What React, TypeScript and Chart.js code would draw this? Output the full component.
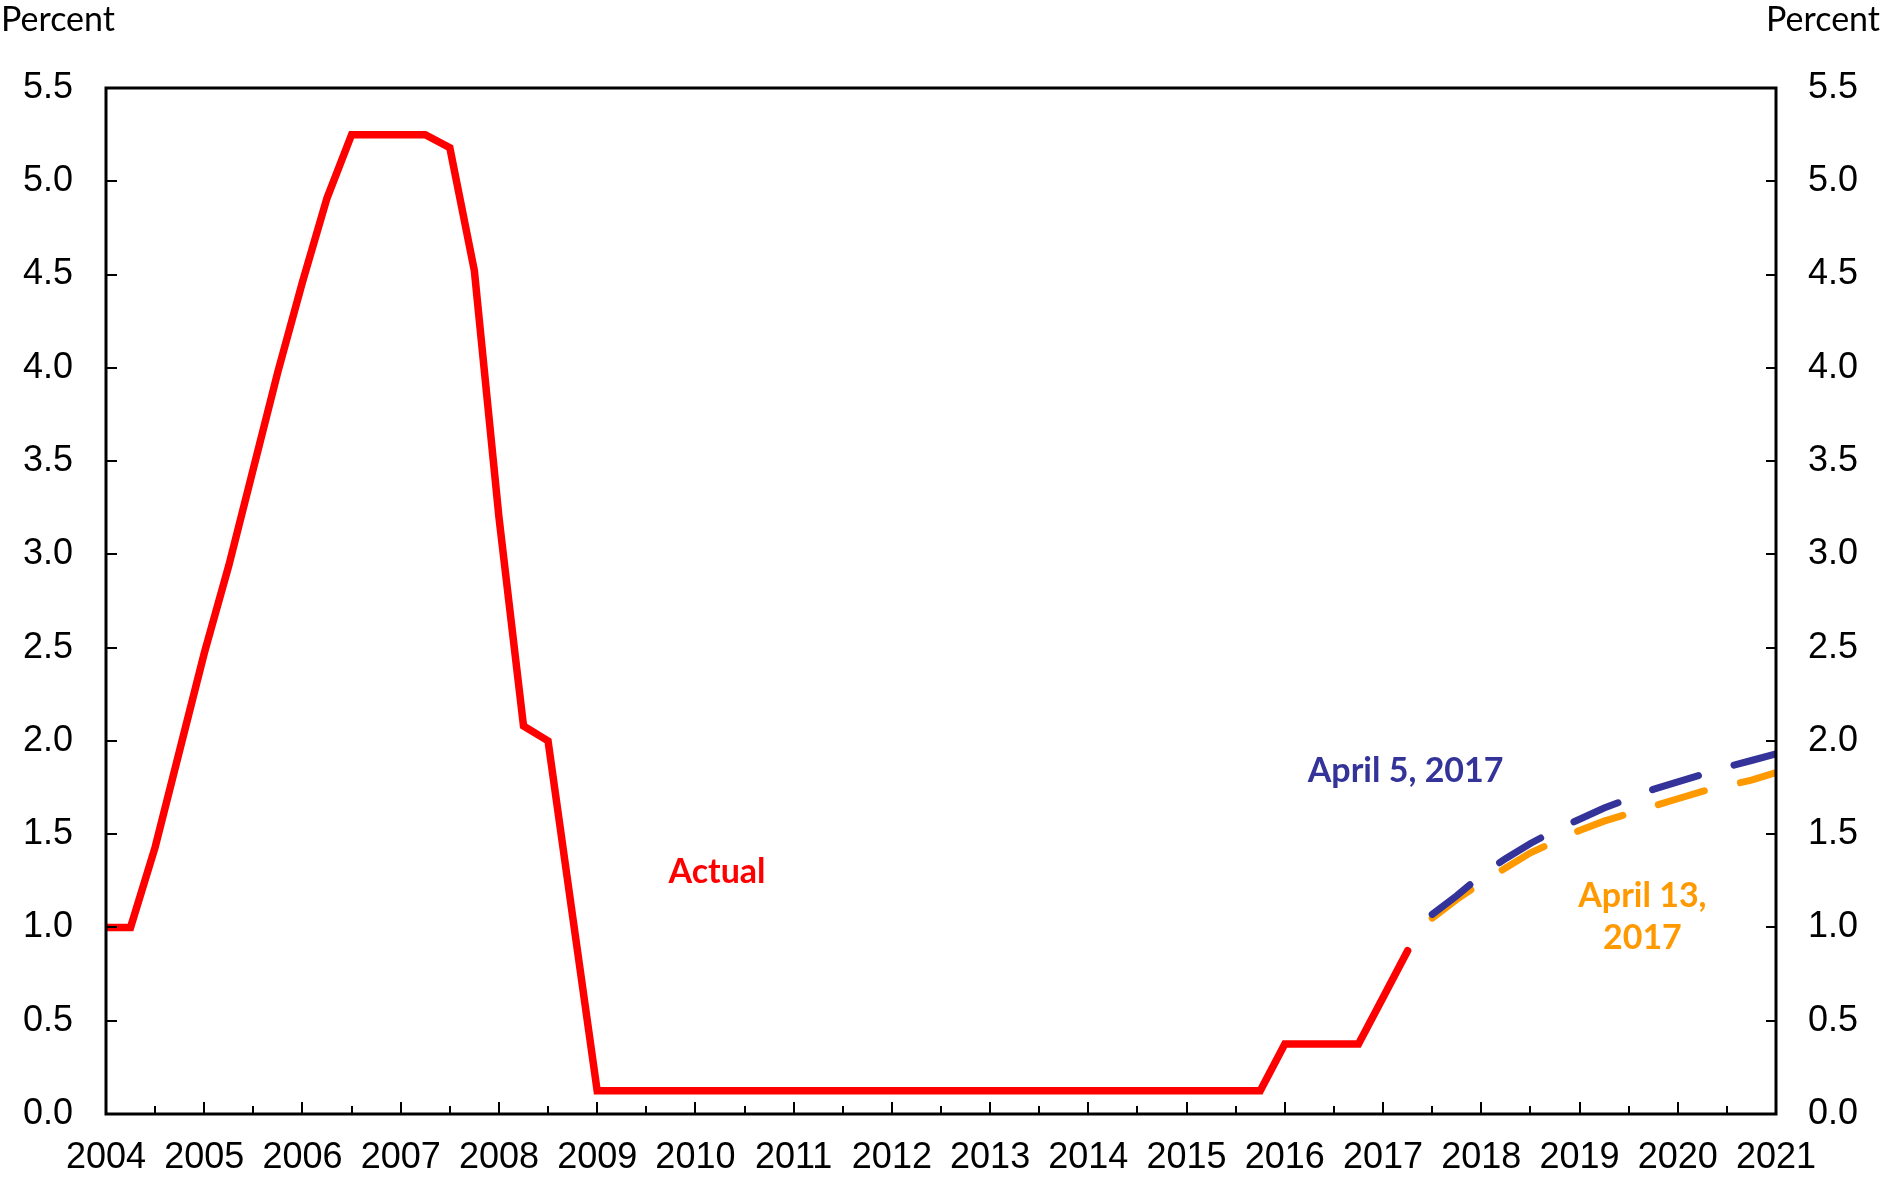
import React, { useEffect, useRef } from 'react';
import { Chart, registerables } from 'chart.js';

Chart.register(...registerables);

// Quarterly federal funds rate, actual (first quarter 2004 onward, quarterly steps)
const actualStartYear = 2004;
const actualRate = [
  1.0, 1.0, 1.43, 1.95,
  2.47, 2.94, 3.46, 3.98,
  4.46, 4.91, 5.25, 5.25,
  5.25, 5.25, 5.18, 4.52,
  3.2, 2.08, 2.0, 1.06,
  0.125, 0.125, 0.125, 0.125,
  0.125, 0.125, 0.125, 0.125,
  0.125, 0.125, 0.125, 0.125,
  0.125, 0.125, 0.125, 0.125,
  0.125, 0.125, 0.125, 0.125,
  0.125, 0.125, 0.125, 0.125,
  0.125, 0.125, 0.125, 0.125,
  0.375, 0.375, 0.375, 0.375,
  0.625, 0.875,
];

// Market-implied paths (third quarter 2017 onward, quarterly steps)
const forecastStartYear = 2017.5;
const april5Path = [
  1.07, 1.17, 1.28, 1.37, 1.45, 1.52, 1.58, 1.64,
  1.69, 1.74, 1.78, 1.82, 1.86, 1.895, 1.93,
];
const april13Path = [
  1.05, 1.15, 1.24, 1.32, 1.40, 1.46, 1.52, 1.57,
  1.61, 1.65, 1.69, 1.73, 1.76, 1.79, 1.83,
];

const yearTicks = [
  2004, 2005, 2006, 2007, 2008, 2009, 2010, 2011, 2012,
  2013, 2014, 2015, 2016, 2017, 2018, 2019, 2020, 2021,
];
const halfYearTicks = [
  2004.5, 2005.5, 2006.5, 2007.5, 2008.5, 2009.5, 2010.5, 2011.5, 2012.5,
  2013.5, 2014.5, 2015.5, 2016.5, 2017.5, 2018.5, 2019.5, 2020.5,
];
const yMin = 0;
const yMax = 5.5;
const yStep = 0.5;

const toPoints = (start: number, vals: number[]) =>
  vals.map((v, i) => ({ x: start + i * 0.25, y: v }));

const W = 1883;
const H = 1181;
const TICK_FONT = '"Liberation Sans", Arial, sans-serif';
const LABEL_FONT = 'Lato, "Open Sans", sans-serif';

const framePlugin = {
  id: 'framePlugin',
  afterDatasetsDraw(chart: any) {
    const { ctx, chartArea } = chart;
    const x = chart.scales.x;
    const y = chart.scales.y;
    const { left, right, top, bottom } = chartArea;
    ctx.save();
    ctx.strokeStyle = '#000';
    ctx.lineCap = 'butt';
    // ticks
    ctx.lineWidth = 2;
    ctx.beginPath();
    yearTicks.forEach((t) => {
      const px = Math.round(x.getPixelForValue(t));
      ctx.moveTo(px, bottom);
      ctx.lineTo(px, bottom - 12);
    });
    halfYearTicks.forEach((t) => {
      const px = Math.round(x.getPixelForValue(t));
      ctx.moveTo(px, bottom);
      ctx.lineTo(px, bottom - 8);
    });
    for (let v = yMin; v <= yMax + 1e-9; v += yStep) {
      const py = Math.round(y.getPixelForValue(v));
      ctx.moveTo(left, py);
      ctx.lineTo(left + 11, py);
      ctx.moveTo(right, py);
      ctx.lineTo(right - 10, py);
    }
    ctx.stroke();
    // frame
    ctx.lineWidth = 3;
    ctx.strokeRect(left, top, right - left, bottom - top);

    // texts
    ctx.textBaseline = 'alphabetic';
    ctx.fillStyle = '#000';
    ctx.font = `34px ${LABEL_FONT}`;
    ctx.textAlign = 'left';
    ctx.fillText('Percent', 1, 31);
    ctx.textAlign = 'right';
    ctx.fillText('Percent', 1880, 31);

    ctx.font = `bold 34px ${LABEL_FONT}`;
    ctx.textAlign = 'center';
    ctx.fillStyle = '#FF0000';
    ctx.fillText('Actual', x.getPixelForValue(2010.22), y.getPixelForValue(1.24));
    ctx.fillStyle = '#333399';
    ctx.fillText('April 5, 2017', x.getPixelForValue(2017.23), y.getPixelForValue(1.78));
    ctx.fillStyle = '#FF9900';
    ctx.fillText('April 13,', x.getPixelForValue(2019.64), y.getPixelForValue(1.11));
    ctx.fillText('2017', x.getPixelForValue(2019.64), y.getPixelForValue(0.885));
    ctx.restore();
  },
};

export default function App() {
  const ref = useRef<HTMLCanvasElement>(null);
  useEffect(() => {
    document.body.style.margin = '0';
    const canvas = ref.current!;
    const chart = new Chart(canvas, {
      type: 'line',
      data: {
        datasets: [
          {
            label: 'Actual',
            data: toPoints(actualStartYear, actualRate),
            borderColor: '#FF0000',
            borderWidth: 7.5,
            pointRadius: 0,
            borderCapStyle: 'round',
            borderJoinStyle: 'miter',
            tension: 0,
            yAxisID: 'y',
          },
          {
            label: 'April 5, 2017',
            data: toPoints(forecastStartYear, april5Path),
            borderColor: '#333399',
            borderWidth: 7,
            pointRadius: 0,
            borderDash: [48, 37],
            borderCapStyle: 'round',
            tension: 0,
            yAxisID: 'y',
          },
          {
            label: 'April 13, 2017',
            data: toPoints(forecastStartYear, april13Path),
            borderColor: '#FF9900',
            borderWidth: 7,
            pointRadius: 0,
            borderDash: [48, 37],
            borderCapStyle: 'round',
            tension: 0,
            yAxisID: 'y',
          },
        ],
      },
      options: {
        responsive: false,
        animation: false,
        events: [],
        layout: { padding: { top: 88, left: 0, right: 0, bottom: 0 } },
        plugins: { legend: { display: false }, tooltip: { enabled: false }, title: { display: false } },
        scales: {
          x: {
            type: 'linear',
            min: 2004,
            max: 2021,
            grid: { display: false, drawTicks: false },
            border: { display: false },
            afterBuildTicks: (scale: any) => {
              scale.ticks = yearTicks.map((v) => ({ value: v }));
            },
            ticks: {
              autoSkip: false,
              maxRotation: 0,
              padding: 22,
              color: '#000',
              font: { family: TICK_FONT, size: 36 },
              callback: (v: any) => String(v),
            },
            afterFit: (scale: any) => {
              scale.height = H - 1114;
            },
          },
          y: {
            position: 'left',
            min: yMin,
            max: yMax,
            grid: { display: false, drawTicks: false },
            border: { display: false },
            ticks: {
              stepSize: yStep,
              padding: 33,
              color: '#000',
              font: { family: TICK_FONT, size: 36 },
              callback: (v: any) => Number(v).toFixed(1),
            },
            afterFit: (scale: any) => {
              scale.width = 106;
            },
          },
          y2: {
            position: 'right',
            min: yMin,
            max: yMax,
            grid: { display: false, drawTicks: false },
            border: { display: false },
            ticks: {
              stepSize: yStep,
              padding: 32,
              color: '#000',
              font: { family: TICK_FONT, size: 36 },
              callback: (v: any) => Number(v).toFixed(1),
            },
            afterFit: (scale: any) => {
              scale.width = W - 1776;
            },
          },
        },
      },
      plugins: [framePlugin],
    } as any);
    return () => chart.destroy();
  }, []);
  return (
    <div style={{ position: 'fixed', left: 0, top: 0, width: W, height: H, background: '#fff', overflow: 'hidden' }}>
      <canvas ref={ref} width={W} height={H} style={{ display: 'block' }} />
    </div>
  );
}
